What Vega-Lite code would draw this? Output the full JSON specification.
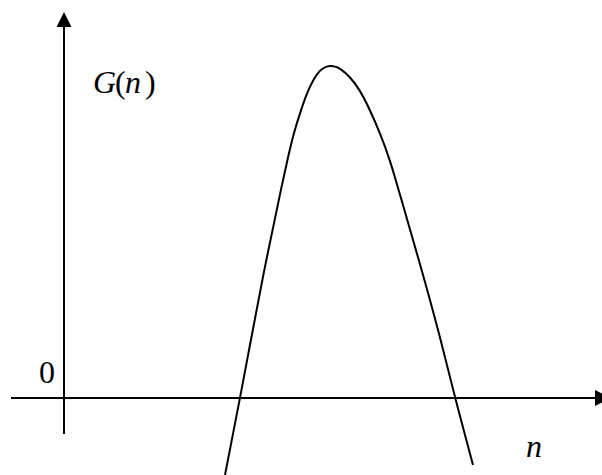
{
  "$schema": "https://vega.github.io/schema/vega-lite/v6.json",
  "width": 602,
  "height": 475,
  "padding": 0,
  "autosize": {"type": "none"},
  "background": "white",
  "config": {"view": {"stroke": null}},
  "datasets": {
    "axes": [
      {"n": 0, "n2": 0, "g": -3.6, "g2": 37.2},
      {"n": -5.3, "n2": 53.2, "g": 0, "g2": 0}
    ],
    "curve": [
      {"n": 16.1, "g": -7.7},
      {"n": 17.6, "g": 0},
      {"n": 18.5, "g": 4.8},
      {"n": 20.2, "g": 13.8},
      {"n": 21.9, "g": 21.8},
      {"n": 22.45, "g": 24.3},
      {"n": 23.0, "g": 26.6},
      {"n": 23.7, "g": 28.8},
      {"n": 24.3, "g": 30.5},
      {"n": 24.9, "g": 31.8},
      {"n": 25.6, "g": 32.8},
      {"n": 26.1, "g": 33.1},
      {"n": 26.6, "g": 33.22},
      {"n": 27.1, "g": 33.16},
      {"n": 27.6, "g": 32.97},
      {"n": 28.6, "g": 32.13},
      {"n": 29.6, "g": 30.8},
      {"n": 30.6, "g": 28.8},
      {"n": 31.6, "g": 26.5},
      {"n": 32.6, "g": 23.8},
      {"n": 33.4, "g": 21.0},
      {"n": 35.5, "g": 13.8},
      {"n": 37.7, "g": 5.8},
      {"n": 39.1, "g": 0},
      {"n": 40.9, "g": -6.7}
    ]
  },
  "encoding": {
    "x": {"field": "n", "type": "quantitative", "axis": null,
          "scale": {"domain": [-6.4, 53.8], "nice": false, "zero": false}},
    "y": {"field": "g", "type": "quantitative", "axis": null,
          "scale": {"domain": [-7.7, 39.8], "nice": false, "zero": false}}
  },
  "layer": [
    {
      "data": {"name": "axes"},
      "mark": {"type": "rule", "color": "black", "strokeWidth": 2},
      "encoding": {
        "x2": {"field": "n2"},
        "y2": {"field": "g2"}
      }
    },
    {
      "data": {"values": [{"n": 0, "g": 37.85}]},
      "mark": {"type": "point", "filled": true, "color": "black", "opacity": 1,
               "shape": "M0,-1L1,1L-1,1Z", "size": 225}
    },
    {
      "data": {"values": [{"n": 53.9, "g": 0}]},
      "mark": {"type": "point", "filled": true, "color": "black", "opacity": 1,
               "shape": "M1,0L-1,1L-1,-1Z", "size": 256}
    },
    {
      "data": {"name": "curve"},
      "mark": {"type": "line", "color": "black", "strokeWidth": 2, "interpolate": "basis"}
    },
    {
      "data": {"values": [
        {"n": 2.9, "g": 30.5, "t": "G"},
        {"n": 6.1, "g": 30.5, "t": "n"},
        {"n": 46.2, "g": -5.9, "t": "n"}
      ]},
      "mark": {"type": "text", "font": "Liberation Serif", "fontSize": 32,
               "fontStyle": "italic", "align": "left", "baseline": "alphabetic", "color": "black"},
      "encoding": {"text": {"field": "t"}}
    },
    {
      "data": {"values": [
        {"n": 5.1, "g": 30.5, "t": "("},
        {"n": 8.1, "g": 30.5, "t": ")"},
        {"n": -2.5, "g": 1.5, "t": "0"}
      ]},
      "mark": {"type": "text", "font": "Liberation Serif", "fontSize": 32,
               "align": "left", "baseline": "alphabetic", "color": "black"},
      "encoding": {"text": {"field": "t"}}
    }
  ]
}
